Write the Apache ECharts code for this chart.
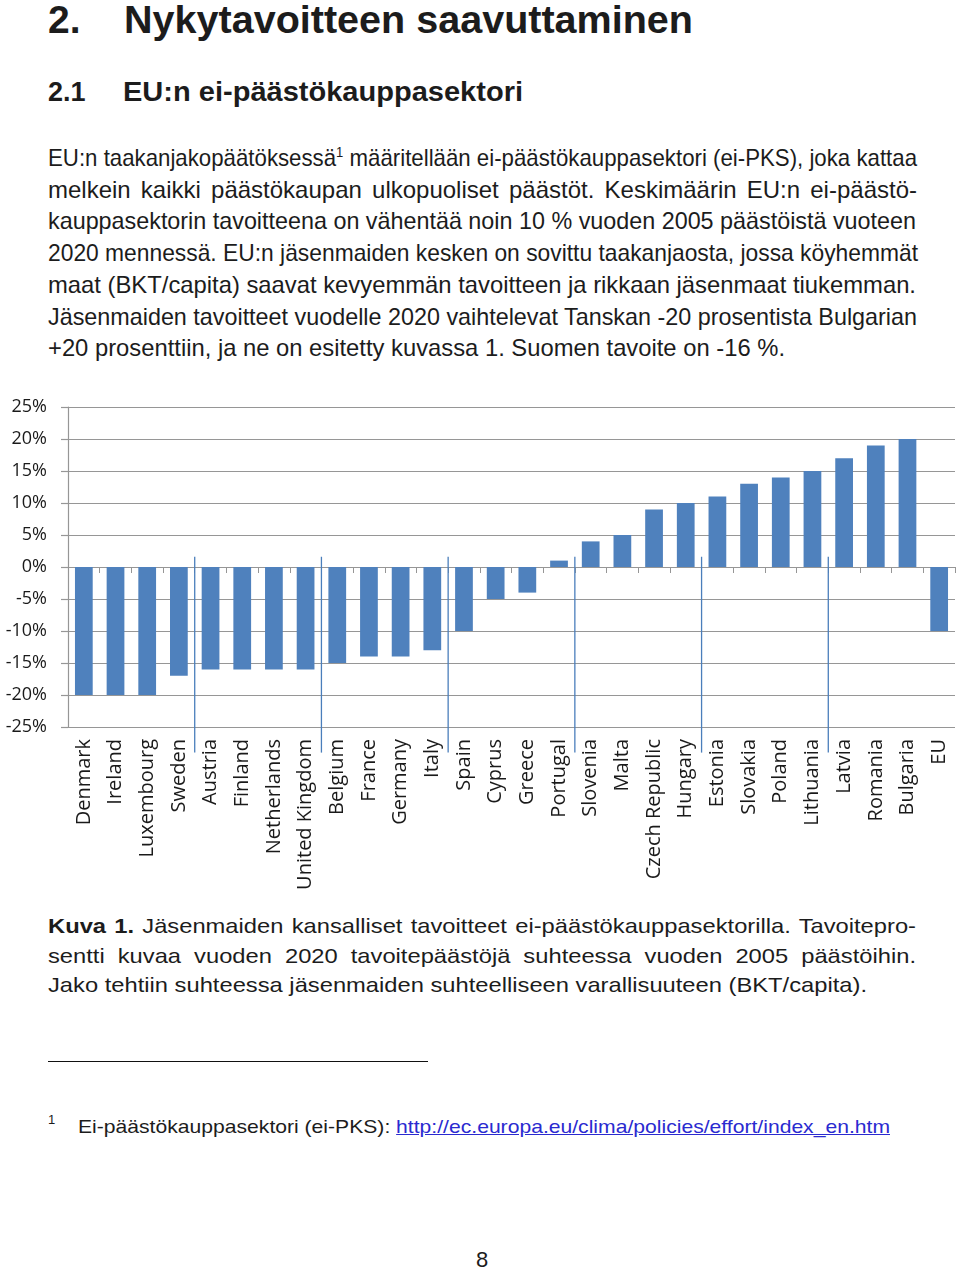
<!DOCTYPE html>
<html>
<head>
<meta charset="utf-8">
<script src="https://cdn.jsdelivr.net/npm/echarts@6/dist/echarts.min.js"></script>
<style>
html,body{margin:0;padding:0;background:#fff;}
body{width:960px;height:1270px;position:relative;overflow:hidden;font-family:"Liberation Sans",Arial,sans-serif;color:#1c1c1c;}
.t{position:absolute;white-space:pre;display:inline-block;transform-origin:0 0;}
.b{font-weight:bold;}
.sup{font-size:14px;vertical-align:9px;line-height:0;}
a{color:#2a2ad0;text-decoration:underline;}
#chart{position:absolute;left:0;top:390px;width:960px;height:510px;}
#rule{position:absolute;left:48px;top:1061px;width:380px;height:0;border-top:1.4px solid #111;}
</style>
</head>
<body>
<div class="t b" style="left:48px;top:0px;font-size:39px;line-height:39px;">2.</div>
<div class="t b" data-w="569" data-mode="scale" data-g="h1" style="left:124px;top:0px;font-size:39px;line-height:39px;">Nykytavoitteen saavuttaminen</div>
<div class="t b" style="left:48px;top:79px;font-size:27px;line-height:27px;">2.1</div>
<div class="t b" data-w="400" data-mode="scale" data-g="h2" style="left:123px;top:79px;font-size:27px;line-height:27px;">EU:n ei-päästökauppasektori</div>

<div class="t" data-w="869" style="left:48px;top:145.7px;font-size:24px;line-height:24px;">EU:n taakanjakopäätöksessä<span class="sup">1</span> määritellään ei-päästökauppasektori (ei-PKS), joka kattaa</div>
<div class="t" data-w="869" style="left:48px;top:177.7px;font-size:24px;line-height:24px;">melkein kaikki päästökaupan ulkopuoliset päästöt. Keskimäärin EU:n ei-päästö-</div>
<div class="t" data-w="868" style="left:48px;top:209.2px;font-size:24px;line-height:24px;">kauppasektorin tavoitteena on vähentää noin 10 % vuoden 2005 päästöistä vuoteen</div>
<div class="t" data-w="870" style="left:48px;top:240.7px;font-size:24px;line-height:24px;">2020 mennessä. EU:n jäsenmaiden kesken on sovittu taakanjaosta, jossa köyhemmät</div>
<div class="t" data-w="868" style="left:48px;top:272.7px;font-size:24px;line-height:24px;">maat (BKT/capita) saavat kevyemmän tavoitteen ja rikkaan jäsenmaat tiukemman.</div>
<div class="t" data-w="869" style="left:48px;top:304.7px;font-size:24px;line-height:24px;">Jäsenmaiden tavoitteet vuodelle 2020 vaihtelevat Tanskan -20 prosentista Bulgarian</div>
<div class="t" data-w="737" style="left:48px;top:335.7px;font-size:24px;line-height:24px;">+20 prosenttiin, ja ne on esitetty kuvassa 1. Suomen tavoite on -16 %.</div>

<div id="chart"></div>

<div class="t" data-w="868" data-g="cap" style="left:48px;top:915.2px;font-size:21px;line-height:21px;"><span class="b">Kuva 1.</span> Jäsenmaiden kansalliset tavoitteet ei-päästökauppasektorilla. Tavoitepro-</div>
<div class="t" data-w="868" data-g="cap" style="left:48px;top:945.2px;font-size:21px;line-height:21px;">sentti kuvaa vuoden 2020 tavoitepäästöjä suhteessa vuoden 2005 päästöihin.</div>
<div class="t" data-w="819" data-mode="scale" data-g="cap" style="left:48px;top:974.2px;font-size:21px;line-height:21px;">Jako tehtiin suhteessa jäsenmaiden suhteelliseen varallisuuteen (BKT/capita).</div>

<div id="rule"></div>
<div class="t" style="left:48px;top:1113px;font-size:13px;line-height:13px;">1</div>
<div class="t" data-w="812" data-mode="scale" data-g="fn" style="left:78px;top:1117px;font-size:19px;line-height:19px;">Ei-päästökauppasektori (ei-PKS): <a>http://ec.europa.eu/clima/policies/effort/index_en.htm</a></div>

<div class="t" style="left:476px;top:1249px;font-size:22px;line-height:22px;">8</div>

<script>
// ---- data ----
var categories = ["Denmark","Ireland","Luxembourg","Sweden","Austria","Finland","Netherlands","United Kingdom","Belgium","France","Germany","Italy","Spain","Cyprus","Greece","Portugal","Slovenia","Malta","Czech Republic","Hungary","Estonia","Slovakia","Poland","Lithuania","Latvia","Romania","Bulgaria","EU"];
var targets = [-20,-20,-20,-17,-16,-16,-16,-16,-15,-14,-14,-13,-10,-5,-4,1,4,5,9,10,11,13,14,15,17,19,20,-10];
var yMin = -25;
var yMax = 25;
var yStep = 5;
var separatorBoundaries = [4,8,12,16,20,24];
var separatorTop = 1.6;
var separatorBottom = -29;

// ---- fit text lines ----
var groupScale = {};
var els = Array.prototype.slice.call(document.querySelectorAll('.t'));
els.forEach(function(el){
  if (el.getAttribute('data-mode') === 'scale') {
    var target = parseFloat(el.getAttribute('data-w'));
    var w = el.getBoundingClientRect().width;
    groupScale[el.getAttribute('data-g')] = target / w;
  }
});
els.forEach(function(el){
  var g = el.getAttribute('data-g');
  var s = (g && groupScale[g]) ? groupScale[g] : 1;
  var w = el.getBoundingClientRect().width;
  if (el.hasAttribute('data-w') && el.getAttribute('data-mode') !== 'scale') {
    var target = parseFloat(el.getAttribute('data-w'));
    var spaces = (el.textContent.match(/ /g) || []).length;
    var ws = spaces > 0 ? (target - w * s) / (spaces * s) : 0;
    if (ws >= -0.5) {
      el.style.wordSpacing = ws + 'px';
    } else {
      s = target / w;
    }
  }
  if (s !== 1) el.style.transform = 'scaleX(' + s + ')';
});

// ---- chart ----
var chart = echarts.init(document.getElementById('chart'), null, {renderer:'canvas'});
var gray = '#969696';
chart.setOption({
  animation: false,
  grid: {left: 68, right: 5, top: 17, bottom: 173},
  xAxis: [
    {
      type: 'category', data: categories, position: 'top',
      axisLine: {onZero: true, lineStyle: {color: gray, width: 1.2}},
      axisTick: {show: true, inside: true, length: 6, interval: 0, lineStyle: {color: gray}},
      axisLabel: {show: false},
      splitLine: {show: false}
    },
    {
      type: 'category', data: categories, position: 'bottom',
      axisLine: {show: false, onZero: false},
      axisTick: {show: false},
      axisLabel: {show: true, interval: 0, rotate: 90, margin: 12,
        fontFamily: 'Open Sans', fontSize: 20, color: '#1a1a1a'},
      splitLine: {show: false}
    }
  ],
  yAxis: {
    type: 'value', min: yMin, max: yMax, interval: yStep,
    axisLine: {show: true, lineStyle: {color: gray, width: 1.2}},
    axisTick: {show: true, length: 7, lineStyle: {color: gray, width: 1.2}},
    axisLabel: {formatter: function(v){ return v + '%'; }, margin: 21,
      fontFamily: 'Open Sans', fontSize: 18, color: '#1a1a1a'},
    splitLine: {show: true, lineStyle: {color: gray, width: 1.2}}
  },
  series: [
    {
      type: 'bar', xAxisIndex: 1, data: targets, barWidth: '56%',
      itemStyle: {color: '#4f81bd'}
    },
    {
      type: 'custom', xAxisIndex: 1, clip: false, z: 5,
      data: separatorBoundaries.map(function(i){ return [i, separatorTop, separatorBottom]; }),
      renderItem: function(params, api){
        var half = api.size([1, 0])[0] / 2;
        var p1 = api.coord([api.value(0), api.value(1)]);
        var p2 = api.coord([api.value(0), api.value(2)]);
        return {type: 'line', shape: {x1: p1[0] - half, y1: p1[1], x2: p2[0] - half, y2: p2[1]},
          style: {stroke: '#4a7ebb', lineWidth: 1.3}};
      }
    }
  ]
});
</script>
</body>
</html>
